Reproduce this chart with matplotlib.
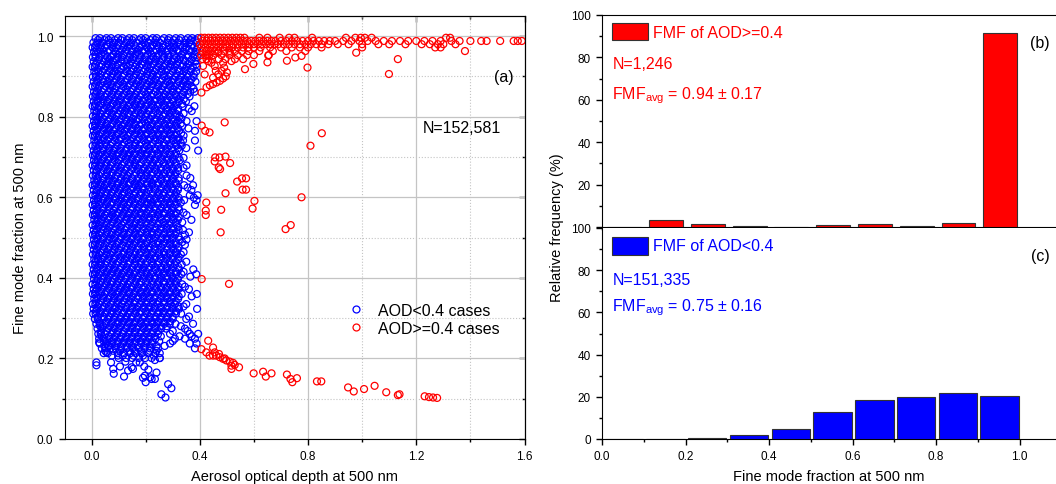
import matplotlib.pyplot as plt
from matplotlib.patches import Rectangle
from matplotlib.lines import Line2D
from matplotlib.ticker import MultipleLocator

plt.rcParams['font.family'] = ['Liberation Sans', 'DejaVu Sans']
plt.rcParams['mathtext.fontset'] = 'custom'
plt.rcParams['mathtext.rm'] = 'Liberation Sans'
plt.rcParams['mathtext.it'] = 'Liberation Sans:italic'

# ---- panel (a): AOD < 0.4 cloud, read row by row (FMF x1000 : AOD x1000) ----
blue_row_fmf = [995, 984, 972, 961, 948, 937, 924, 912, 899, 887, 875, 862, 850, 838,
                826, 814, 801, 789, 777, 765, 753, 741, 728, 716, 704, 692, 679, 667,
                654, 642, 630, 618, 605, 593, 581, 568, 556, 544, 531, 519, 507, 495,
                482, 470, 458, 446, 433, 421, 409, 397, 384, 372, 360, 348, 335, 323,
                311, 298, 286, 274, 261, 249, 237, 225, 213, 201]
blue_row_aod = [
    "15 31 55 72 98 114 139 157 183 200 226 241 268 287 311 330 356 372 393",
    "7 22 40 65 83 101 128 146 166 193 210 233 252 279 297 318 345 361 387",
    "4 13 33 50 77 92 118 135 162 179 204 221 249 264 292 309 336 350 378 392",
    "9 24 43 61 88 105 125 149 168 188 216 230 257 275 301 321 340 366 385",
    "5 15 29 57 71 96 112 141 154 181 199 227 243 268 286 313 329 357 375 391",
    "8 21 46 63 80 108 122 145 172 190 211 236 252 280 298 319 346 363 384",
    "4 12 35 52 74 90 119 134 161 177 205 219 246 266 290 307 335 351 374 390",
    "10 25 41 66 84 102 130 147 168 193 209 233 258 275 301 324 342 366 386",
    "5 16 31 55 73 95 114 139 156 183 198 225 241 269 287 310 331 355 377",
    "8 22 44 62 83 107 124 149 172 189 214 232 256 280 297 322 344 363 384",
    "4 13 29 53 75 92 117 135 160 179 203 222 246 265 291 308 333 352 370",
    "9 20 39 64 81 104 129 146 168 194 210 237 254 278 300 317 341 365 381",
    "5 14 32 50 72 97 113 138 157 180 205 221 249 266 288 313 330 362",
    "8 23 43 59 86 103 126 150 169 190 215 232 258 276 302 323 349",
    "4 12 28 54 70 95 118 136 161 179 200 226 244 267 291 306 337 380",
    "10 19 42 65 82 106 124 147 172 191 212 237 253 281 298 320 370",
    "5 15 30 50 76 93 115 140 156 182 201 222 249 264 289 314 325",
    "9 22 38 61 85 103 128 146 167 195 211 233 258 277 302 319 351 388",
    "4 13 33 53 71 97 114 136 161 178 206 221 244 270 287 311 335",
    "8 20 45 63 81 107 123 149 171 188 215 232 255 280 297 323 382",
    "5 12 28 52 75 91 119 135 158 184 199 226 247 265 292 308 340",
    "10 24 41 59 86 102 130 145 168 193 210 235 253 279 301 318 338 382",
    "4 14 31 55 70 96 113 140 160 179 204 220 248 268 288 313 333",
    "8 21 43 64 83 105 126 148 173 190 212 238 255 276 299 324 394",
    "5 12 29 51 77 93 117 136 157 183 201 223 246 266 291 309",
    "9 23 40 62 85 101 129 150 166 192 214 234 259 280 302 326",
    "4 13 32 53 71 97 112 139 161 178 203 224 243 271 287 311 351",
    "8 19 44 60 86 104 125 147 172 190 210 237 256 277 300 320",
    "5 15 28 54 73 91 119 133 158 184 202 221 249 264 293 308 351",
    "10 22 42 65 80 108 122 150 169 189 215 230 257 279 297 322",
    "4 12 34 49 76 94 117 137 162 176 205 223 244 270 288 313 342 375",
    "8 21 40 63 84 103 130 144 170 194 211 235 254 278 303 319 369",
    "5 14 30 55 71 98 113 140 157 181 199 226 248 265 289 310 363 392",
    "9 24 43 61 88 105 124 149 172 190 216 231 258 277 300 322 342 388",
    "4 13 29 52 72 95 118 134 160 178 204 220 247 268 290 309 382",
    "8 20 41 66 81 107 125 150 168 192 212 237 253 281 297 324",
    "5 12 33 50 76 92 115 137 159 184 200 224 245 266 292 310 351",
    "10 23 38 62 84 103 129 146 171 189 214 232 259 276 301 319 369",
    "4 14 30 55 71 96 112 139 158 180 203 221 246 270 287 314",
    "8 21 44 60 86 105 124 150 167 193 210 236 255 278 300 322 338",
    "5 13 28 53 74 91 118 135 162 177 205 224 243 267 291 309 345",
    "9 22 42 64 81 107 126 148 170 190 214 230 258 279 298 323 351",
    "4 12 31 50 76 93 114 140 156 183 199 226 247 264 290 311 345",
    "8 20 45 62 85 102 130 145 171 194 211 234 254 280 302 318",
    "5 15 29 54 70 97 117 136 159 178 204 222 249 268 288 313 330",
    "10 24 40 63 83 106 123 151 167 191 215 231 256 276 300 321",
    "4 13 33 51 75 92 118 135 160 182 200 226 244 270 291 308 333",
    "8 21 42 64 82 105 128 147 172 189 212 236 258 277 297 323 376",
    "5 12 28 53 72 96 113 140 157 183 203 220 248 265 292 312 332 387",
    "9 23 44 60 86 103 126 149 168 192 213 234 254 281 300 319",
    "4 14 30 54 71 94 117 134 161 178 205 225 245 268 289 311 335",
    "8 20 39 65 84 107 124 148 170 191 210 237 257 276 302 321 360",
    "5 13 31 50 76 92 115 139 157 183 201 221 248 266 288 313 333 389",
    "10 22 43 62 83 104 129 145 172 190 214 232 255 279 297 320",
    "5 14 28 55 72 97 113 137 159 180 203 226 244 268 292 309 350",
    "8 20 41 63 86 102 127 150 167 193 211 234 258 277 300 323 390",
    "6 15 32 51 74 93 116 136 161 178 204 222 246 266 288 312 331",
    "12 23 44 61 82 107 125 147 171 189 213 236 254 279 300 350",
    "18 30 53 73 96 114 138 158 182 200 225 243 269 289 310 375",
    "22 40 62 85 103 128 149 168 192 211 235 257 276 345",
    "25 34 51 74 94 116 137 160 181 203 224 246 290 363 394",
    "28 45 65 83 106 127 148 171 190 213 236 308 345 382",
    "30 56 76 96 117 139 158 183 202 223 290 363 388",
    "38 52 70 89 110 130 152 175 196 216 245 382",
    "45 60 98 120 143 163 186 210 235 252",
    "100 128 150 175 198 222 252",
]
# second, interleaved set of rows of the same cloud
blue_row2_fmf = [990, 978, 966, 954, 942, 930, 918, 906, 893, 881, 869, 856, 844, 832,
                 820, 808, 795, 783, 771, 759, 747, 735, 722, 710, 698, 686, 673, 661,
                 648, 636, 624, 612, 599, 587, 575, 562, 550, 538, 526, 513, 501, 489,
                 477, 464, 452, 440, 427, 415, 403, 391, 378, 366, 354, 342, 329, 317,
                 304, 292, 280, 268, 255, 243, 231, 219, 207]
blue_row2_aod = [
    "24 47 63 86 109 131 150 175 191 218 236 259 282 303 324 347 366 384",
    "17 36 58 79 96 121 140 158 185 199 224 241 263 286 305 327 343 372",
    "20 40 67 84 112 128 151 173 196 212 239 260 281 299 316 347 361 388",
    "14 35 49 80 99 117 143 162 176 207 222 247 262 284 305 334 355 381",
    "26 52 68 91 111 133 152 177 199 218 238 262 283 306 325 340 370",
    "16 39 60 78 97 128 141 166 185 208 228 251 274 293 314 339 358 386",
    "22 47 70 93 108 129 155 171 198 216 239 259 279 303 320 347 368",
    "15 32 58 78 97 120 141 163 181 205 226 244 266 289 314 336 353 378",
    "23 41 66 90 108 132 150 174 196 219 236 260 282 302 322 345 369",
    "17 35 58 73 98 117 141 164 182 206 224 247 271 290 316 337 355",
    "24 45 67 88 110 128 152 173 193 215 240 259 281 302 321 344 377",
    "16 33 56 76 97 120 140 162 184 202 226 245 270 288 310 335 355",
    "22 41 64 85 108 129 150 171 195 213 236 257 279 299 322 341",
    "15 36 57 79 94 117 141 161 183 203 224 248 266 292 314 335",
    "24 46 66 88 110 129 149 170 193 214 235 257 279 301 320 360",
    "17 34 56 76 98 119 138 162 182 204 227 246 270 289 311 340",
    "22 43 67 86 109 127 153 172 191 216 235 257 281 300 332",
    "15 35 56 76 96 121 140 159 184 201 225 246 270 290 311 330",
    "23 46 64 89 108 131 150 170 194 214 238 256 278 299 320 358",
    "17 36 56 75 97 117 141 161 182 203 224 246 268 290 313 331",
    "24 45 65 88 108 128 152 174 192 216 236 259 279 301 322",
    "16 33 53 76 96 121 139 162 183 201 225 247 267 292 311 330",
    "22 42 66 86 107 129 149 170 194 213 234 257 279 297 320 350",
    "16 36 57 77 98 118 141 160 183 205 224 245 270 289 312",
    "23 45 65 84 109 127 150 170 191 216 236 258 280 300 322 340",
    "15 34 55 76 96 120 139 161 182 203 226 248 268 290 311",
    "24 44 66 87 108 129 150 171 194 214 235 256 279 300 320 340",
    "17 35 57 77 97 118 140 162 182 203 225 246 268 290 310",
    "22 43 64 86 108 129 149 172 193 214 236 257 279 300 322 365",
    "16 36 56 76 97 119 141 161 182 204 224 245 268 290 311",
    "23 45 65 88 107 128 152 171 191 213 234 258 280 299 321 355",
    "17 34 55 75 98 119 138 161 183 202 226 247 268 290 312",
    "24 44 66 86 109 130 150 170 193 215 236 256 279 301 322 378",
    "15 36 57 77 96 120 140 160 184 204 224 245 270 289 311 330",
    "22 43 64 88 108 128 151 172 192 213 235 258 279 299 321",
    "16 35 56 77 97 118 139 161 182 203 226 247 267 291 312 340",
    "23 45 66 85 109 130 149 171 194 214 234 256 280 300 322",
    "17 34 55 76 96 119 141 162 182 202 225 248 267 289 311 335",
    "24 44 65 88 107 129 150 170 192 215 236 257 278 301 320",
    "15 36 56 76 98 118 139 161 184 204 224 246 269 290 312 360",
    "22 43 67 86 108 131 151 172 193 213 235 258 279 300 322",
    "16 35 55 77 97 119 140 160 182 203 226 246 268 290 311 335",
    "23 45 64 87 109 128 150 171 194 214 234 257 280 299 321",
    "17 34 57 76 96 120 141 162 182 202 225 248 267 291 312 340",
    "24 44 65 86 108 129 149 170 193 215 236 256 279 300 322",
    "15 36 55 78 98 118 139 161 183 204 224 246 270 289 311 350",
    "22 43 66 85 107 130 151 172 192 213 235 258 278 301 321",
    "16 35 56 77 97 119 140 160 184 203 226 247 268 290 312 340",
    "23 45 64 88 109 128 150 171 193 214 234 256 280 299 322 365",
    "17 34 57 76 96 120 141 162 182 202 225 248 267 291 311",
    "24 44 65 86 108 129 149 170 194 215 236 257 279 300 321 345",
    "15 36 55 77 98 118 139 161 183 204 224 246 269 290 312",
    "22 43 67 85 107 130 151 172 192 213 235 258 278 301 322 370",
    "16 35 56 78 97 119 140 160 184 203 226 247 268 290 311",
    "23 45 64 87 109 128 150 171 193 214 234 256 280 299 321 340",
    "17 34 57 76 96 120 141 162 182 202 225 248 267 291 312",
    "24 44 65 86 108 129 149 170 194 215 236 257 279 300 360",
    "28 55 77 98 118 139 161 183 204 224 246 269 290",
    "32 43 67 85 107 130 151 172 192 213 235 258 278 330",
    "36 56 78 97 119 140 160 184 203 226 247 300 355",
    "38 64 87 109 128 150 171 193 214 234 256 325 370",
    "45 57 76 96 120 141 162 182 202 225 250 300",
    "47 65 86 108 129 149 170 194 215 240 270",
    "50 80 105 140 160 184 215 240",
    "75 115 155 190 230",
]
blue_low_points = [(0.018, 0.190), (0.018, 0.183), (0.028, 0.240), (0.055, 0.215),
                   (0.080, 0.174), (0.082, 0.162), (0.120, 0.155), (0.148, 0.178),
                   (0.153, 0.174), (0.178, 0.190), (0.195, 0.180), (0.197, 0.157),
                   (0.200, 0.141), (0.216, 0.153), (0.222, 0.149), (0.234, 0.149),
                   (0.234, 0.196), (0.252, 0.201), (0.258, 0.111), (0.273, 0.103),
                   (0.283, 0.136), (0.295, 0.126), (0.190, 0.152), (0.098, 0.207),
                   (0.105, 0.180), (0.135, 0.170), (0.165, 0.190), (0.240, 0.165),
                   (0.072, 0.190), (0.125, 0.192), (0.210, 0.172), (0.062, 0.232)]

# ---- panel (a): AOD >= 0.4 cases ----
red_band_fmf = [996, 988, 980, 972, 963, 953, 943]
red_band_aod = [
    "405 418 432 446 460 475 490 505 520 535 550 565 620 650 695 730 750 815 940 975 995 1010 1035 1310 1325",
    "410 425 440 455 470 485 500 515 530 545 560 575 590 605 620 635 650 665 680 700 720 740 760 780 800 820 "
    "840 860 880 900 930 960 990 1020 1050 1080 1110 1140 1170 1200 1230 1260 1290 1330 1360 1400 1440 1460 "
    "1510 1560 1575 1590",
    "400 415 430 445 460 478 495 510 525 540 555 570 585 600 615 630 645 660 675 690 710 730 750 770 790 810 "
    "830 850 875 910 950 1000 1060 1100 1160 1220 1250 1280 1300 1345",
    "405 420 438 452 468 485 500 520 540 560 580 600 625 660 700 740 770 800 850 1000 1270 1290",
    "410 425 440 455 470 490 510 530 555 580 620 670 720 790 1380",
    "405 420 435 450 480 510 540 575 600 655",
    "410 425 445 470 495 530 560",
]
red_points = [
    (0.406, 0.860), (0.425, 0.873), (0.437, 0.878), (0.449, 0.881), (0.462, 0.885),
    (0.474, 0.889), (0.486, 0.895), (0.496, 0.900), (0.449, 0.897), (0.468, 0.905),
    (0.480, 0.914), (0.455, 0.926), (0.486, 0.934), (0.443, 0.934), (0.517, 0.938),
    (0.412, 0.926), (0.418, 0.905), (0.468, 0.959), (0.511, 0.959), (0.567, 0.918),
    (0.598, 0.931), (0.653, 0.952), (0.650, 0.935), (0.722, 0.939), (0.753, 0.947),
    (0.776, 0.951), (0.798, 0.922), (0.978, 0.959), (1.099, 0.906), (1.132, 0.943),
    (0.425, 0.951), (0.431, 0.938), (0.459, 0.914), (0.490, 0.922), (0.500, 0.910),
    (0.407, 0.778), (0.420, 0.765), (0.436, 0.761), (0.492, 0.786), (0.809, 0.728),
    (0.851, 0.759), (0.457, 0.699), (0.473, 0.699), (0.495, 0.701), (0.455, 0.689),
    (0.470, 0.674), (0.475, 0.670), (0.512, 0.685), (0.538, 0.639), (0.556, 0.647),
    (0.571, 0.647), (0.558, 0.619), (0.571, 0.619), (0.495, 0.610), (0.776, 0.600),
    (0.424, 0.587), (0.602, 0.591), (0.595, 0.572), (0.479, 0.569), (0.422, 0.567),
    (0.422, 0.556), (0.736, 0.531), (0.717, 0.521), (0.477, 0.513), (0.407, 0.397),
    (0.508, 0.385),
    (0.431, 0.244), (0.406, 0.223), (0.424, 0.215), (0.436, 0.207), (0.449, 0.227),
    (0.455, 0.215), (0.461, 0.207), (0.471, 0.211), (0.474, 0.203), (0.486, 0.199),
    (0.498, 0.195), (0.511, 0.192), (0.517, 0.174), (0.523, 0.189), (0.529, 0.184),
    (0.545, 0.178), (0.517, 0.182), (0.492, 0.200), (0.449, 0.207), (0.599, 0.163),
    (0.634, 0.167), (0.644, 0.155), (0.665, 0.163), (0.722, 0.160), (0.735, 0.149),
    (0.742, 0.141), (0.759, 0.151), (0.833, 0.143), (0.849, 0.143), (0.948, 0.128),
    (0.969, 0.118), (1.007, 0.124), (1.046, 0.132), (1.089, 0.116), (1.132, 0.109),
    (1.138, 0.111), (1.231, 0.106), (1.247, 0.104), (1.262, 0.103), (1.277, 0.102),
]

# ---- panels (b), (c): relative frequency (%) per FMF bin ----
bin_left = [0.0, 0.1, 0.2, 0.3, 0.4, 0.5, 0.6, 0.7, 0.8, 0.9]
freq_high = [0.0, 3.4, 1.3, 0.3, 0.0, 0.9, 1.2, 0.7, 1.8, 91.6]
freq_low = [0.0, 0.0, 0.3, 1.7, 4.6, 12.9, 18.4, 19.7, 21.7, 20.6]

# build scatter arrays
blue_x, blue_y = [], []
for fmfs, rows in ((blue_row_fmf, blue_row_aod), (blue_row2_fmf, blue_row2_aod)):
    for fmf, row in zip(fmfs, rows):
        for v in row.split():
            blue_x.append(int(v) / 1000)
            blue_y.append(fmf / 1000)
for x, y in blue_low_points:
    blue_x.append(x)
    blue_y.append(y)

red_x, red_y = [], []
for fmf, row in zip(red_band_fmf, red_band_aod):
    for v in row.split():
        red_x.append(int(v) / 1000)
        red_y.append(fmf / 1000)
for x, y in red_points:
    red_x.append(x)
    red_y.append(y)

BLUE = '#0000ff'
RED = '#ff0000'
GRID = '#c4c4c4'
TICK_FS = 8.5
LABEL_FS = 10.5
TEXT_FS = 11.5
MS = 25

fig = plt.figure(figsize=(10.56, 4.85), dpi=100)

# ================= (a) =================
ax = fig.add_axes([64.5 / 1056, 45 / 485, 460 / 1056, 423 / 485])
ax.set_xlim(-0.1, 1.6)
ax.set_ylim(0, 1.05)
ax.xaxis.set_major_locator(MultipleLocator(0.4))
ax.xaxis.set_minor_locator(MultipleLocator(0.2))
ax.yaxis.set_major_locator(MultipleLocator(0.2))
ax.yaxis.set_minor_locator(MultipleLocator(0.1))
ax.grid(True, which='major', color=GRID, lw=0.9, ls='-')
ax.grid(True, which='minor', color=GRID, lw=0.8, ls=':')
ax.set_axisbelow(True)
ax.tick_params(which='both', direction='out', labelsize=TICK_FS, width=1)
ax.tick_params(which='major', length=4.5)
ax.tick_params(which='minor', length=2.5)
ax.xaxis.set_major_formatter(lambda v, p: f'{v:.1f}')
ax.yaxis.set_major_formatter(lambda v, p: f'{v:.1f}')

top = ax.secondary_xaxis('top')
top.xaxis.set_major_locator(MultipleLocator(0.4))
top.xaxis.set_minor_locator(MultipleLocator(0.2))
top.tick_params(which='both', direction='in', labeltop=False, width=1)
top.tick_params(which='major', length=4.5)
top.tick_params(which='minor', length=2.5)
right = ax.secondary_yaxis('right')
right.yaxis.set_major_locator(MultipleLocator(0.2))
right.yaxis.set_minor_locator(MultipleLocator(0.1))
right.tick_params(which='both', direction='in', labelright=False, width=1)
right.tick_params(which='major', length=4.5)
right.tick_params(which='minor', length=2.5)

ax.scatter(blue_x, blue_y, s=MS, facecolors='none', edgecolors=BLUE, linewidths=0.9, zorder=3)
ax.scatter(red_x, red_y, s=MS, facecolors='none', edgecolors=RED, linewidths=0.9, zorder=4)

ax.text(1.224, 0.774, 'N=152,581', fontsize=TEXT_FS, ha='left', va='center')
ax.text(1.523, 0.90, '(a)', fontsize=TEXT_FS, ha='center', va='center')

handles = [Line2D([], [], ls='none', marker='o', ms=5, mfc='none', mec=BLUE, mew=0.9),
           Line2D([], [], ls='none', marker='o', ms=5, mfc='none', mec=RED, mew=0.9)]
ax.legend(handles, ['AOD<0.4 cases', 'AOD>=0.4 cases'], loc='center left',
          bbox_to_anchor=(0.616, 0.283), frameon=False, fontsize=TEXT_FS,
          handlelength=1.0, handletextpad=0.9, labelspacing=0.2, borderpad=0,
          borderaxespad=0)

fig.text(20 / 1056, 1 - 238 / 485, 'Fine mode fraction at 500 nm', rotation=90,
         fontsize=LABEL_FS, ha='center', va='center')
fig.text(294.5 / 1056, 1 - 477 / 485, 'Aerosol optical depth at 500 nm',
         fontsize=LABEL_FS, ha='center', va='center')

# ================= (b), (c) =================
ax_b = fig.add_axes([602 / 1056, 257 / 485, 454 / 1056, 212 / 485])
ax_c = fig.add_axes([602 / 1056, 45 / 485, 454 / 1056, 211 / 485])

for a in (ax_b, ax_c):
    a.set_xlim(0, 1.087)
    a.set_ylim(0, 100)
    a.spines['right'].set_visible(False)
    a.xaxis.set_major_locator(MultipleLocator(0.2))
    a.xaxis.set_minor_locator(MultipleLocator(0.1))
    a.yaxis.set_major_locator(MultipleLocator(20))
    a.yaxis.set_minor_locator(MultipleLocator(10))
    a.tick_params(which='both', direction='out', labelsize=TICK_FS, width=1)
    a.tick_params(which='major', length=4.5)
    a.tick_params(which='minor', length=2.5)

ax_b.tick_params(axis='x', which='major', length=2.5, labelbottom=False)
ax_b.set_yticks([0, 20, 40, 60, 80, 100])
ax_b.set_yticklabels(['', '20', '40', '60', '80', '100'])
ax_c.xaxis.set_major_formatter(lambda v, p: f'{v:.1f}')
ax_c.spines['top'].set_visible(False)
ax_c.tick_params(axis='x', which='both', top=False)

ax_b.bar([b + 0.013 for b in bin_left], freq_high, width=0.081, align='edge',
         color=RED, edgecolor='#333333', linewidth=0.8, zorder=3)
ax_c.bar([b + 0.006 for b in bin_left], freq_low, width=0.092, align='edge',
         color=BLUE, edgecolor='#333333', linewidth=0.8, zorder=3)

ax_b.add_patch(Rectangle((0.025, 88.0), 0.085, 8.2, facecolor=RED, edgecolor='#333333', lw=0.8))
ax_b.text(0.123, 91.8, 'FMF of AOD>=0.4', color=RED, fontsize=TEXT_FS, va='center')
ax_b.text(0.025, 77.2, 'N=1,246', color=RED, fontsize=TEXT_FS, va='center')
ax_b.text(0.025, 60.8, r'FMF$_{\mathrm{avg}}$ = 0.94 ± 0.17', color=RED,
          fontsize=TEXT_FS, va='baseline')
ax_b.text(1.049, 87.1, '(b)', fontsize=TEXT_FS, ha='center', va='center')

ax_c.add_patch(Rectangle((0.025, 87.2), 0.085, 8.7, facecolor=BLUE, edgecolor='#333333', lw=0.8))
ax_c.text(0.123, 91.6, 'FMF of AOD<0.4', color=BLUE, fontsize=TEXT_FS, va='center')
ax_c.text(0.025, 75.7, 'N=151,335', color=BLUE, fontsize=TEXT_FS, va='center')
ax_c.text(0.025, 60.8, r'FMF$_{\mathrm{avg}}$ = 0.75 ± 0.16', color=BLUE,
          fontsize=TEXT_FS, va='baseline')
ax_c.text(1.05, 87.2, '(c)', fontsize=TEXT_FS, ha='center', va='center')

fig.text(557 / 1056, 1 - 228 / 485, 'Relative frequency (%)', rotation=90,
         fontsize=LABEL_FS, ha='center', va='center')
fig.text(829 / 1056, 1 - 477 / 485, 'Fine mode fraction at 500 nm',
         fontsize=LABEL_FS, ha='center', va='center')

fig.savefig('out.png', dpi=100)
